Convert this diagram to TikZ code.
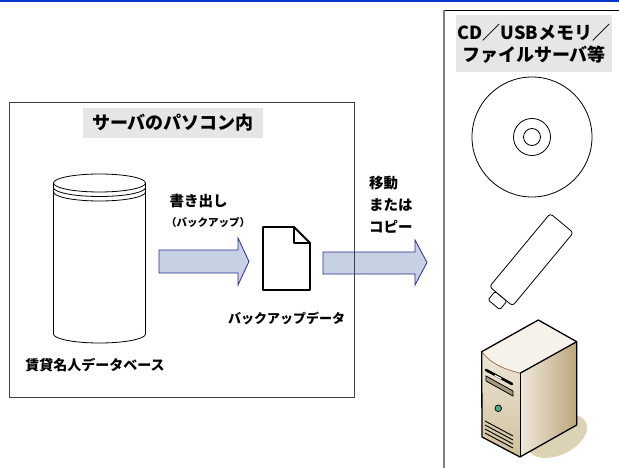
\documentclass[tikz,border=0pt]{standalone}
\usepackage{fontspec}
\setmainfont{Noto Sans CJK JP}
\usetikzlibrary{positioning, calc}

\definecolor{barblue}{RGB}{0,51,204}
\definecolor{tagbg}{HTML}{E6E6E6}
\definecolor{flowfill}{HTML}{C6D1E4}
\definecolor{flowline}{HTML}{2A2A8E}
\definecolor{casetop}{HTML}{F6F2E9}
\definecolor{casefrontA}{HTML}{EEE7D8}
\definecolor{casefrontB}{HTML}{CFBF9C}
\definecolor{casesideA}{HTML}{EFE8DA}
\definecolor{casesideB}{HTML}{BCA77E}
\definecolor{caseshadow}{HTML}{DCD2B5}
\definecolor{ledgreen}{HTML}{4AA88C}

\begin{document}
\begin{tikzpicture}[x=1pt, y=-1pt,
    tag/.style={fill=tagbg, inner sep=0pt, font=\bfseries\fontsize{18}{22}\selectfont},
    lbl/.style={inner sep=0pt, font=\bfseries\fontsize{14}{22}\selectfont},
    flow/.style={fill=flowfill, draw=flowline, line width=0.8pt, line join=miter}]
  \useasboundingbox (0,0) rectangle (619,468);
  \fill[barblue] (0,0) rectangle (619,2.5);

  % block arrows (drawn first, the frames run over them)
  \draw[flow] (159,250) -- (238,250) -- (238,238) -- (249,261.5) -- (238,285) -- (238,273) -- (159,273) -- cycle;
  \draw[flow] (323,252) -- (415,252) -- (415,240) -- (427,262.5) -- (415,285) -- (415,274) -- (323,274) -- cycle;

  % server PC frame
  \draw[black!75, line width=0.9pt] (9,102) rectangle (354,397);
  \node[tag, minimum width=180pt, minimum height=30pt] (srvtitle) at (173,123) {サーバのパソコン内};

  % database cylinder with lid rings
  \draw[line width=0.8pt, fill=white] (53.5,183) -- (53.5,334) arc[start angle=180, end angle=0, x radius=46, y radius=9] -- (145.5,183);
  \draw[line width=0.8pt] (99.5,183) ellipse[x radius=46, y radius=9];
  \draw[line width=0.8pt] (53.5,187.5) arc[start angle=180, end angle=0, x radius=46, y radius=9];
  \draw[line width=0.8pt] (53.5,192) arc[start angle=180, end angle=0, x radius=46, y radius=9];
  \node[lbl] (dbname) at (95,365) {賃貸名人データベース};

  \node[lbl, font=\bfseries\fontsize{14.5}{18}\selectfont] (exportlbl) at (198.5,201) {書き出し};
  \node[lbl, font=\bfseries\fontsize{10.5}{14}\selectfont] (exportsub) at (208,222) {（バックアップ）};

  % backup file
  \draw[line width=1.8pt, line join=round, fill=white] (263,227) -- (294,227) -- (310,243) -- (310,290) -- (263,290) -- cycle;
  \draw[line width=1.8pt, line join=round] (294,227) -- (294,243) -- (310,243);
  \node[lbl, font=\bfseries\fontsize{13}{16}\selectfont] (bkname) at (286.5,318) {バックアップデータ};

  \node[lbl, font=\bfseries\fontsize{14.5}{22}\selectfont, align=left, anchor=west] (movelbl) at (369,205) {移動\\または\\コピー};

  % media frame
  \draw[black, line width=0.8pt] (619,10) -- (444,10);
  \draw[gray, line width=1.6pt] (444,10) -- (444,468);
  \node[tag, minimum width=156pt, minimum height=57pt, align=center] (medtitle) at (534,43.5) {CD／USBメモリ／\\ファイルサーバ等};

  % CD
  \draw[line width=0.8pt] (532,137) circle[radius=60];
  \draw[line width=0.8pt] (532,137) circle[radius=18.5];
  \draw[line width=0.8pt] (532,137) circle[radius=8.5];

  % USB stick
  \draw[line width=0.8pt, rounded corners=1.5pt, fill=white] (488.1,299.9) -- (495.1,291.4) -- (506.9,301.2) -- (499.9,309.7) -- cycle;
  \draw[line width=0.8pt, rounded corners=3pt, fill=white] (550.2,213.5) -- (573.3,232.7) -- (512.6,305.9) -- (489.5,286.7) -- cycle;

  % file server tower
  \coordinate (caseA) at (481.7,351.7);
  \coordinate (caseB) at (538.3,320);
  \coordinate (caseC) at (576.7,341.7);
  \coordinate (caseD) at (520,373.3);
  \coordinate (caseE) at (482,437);
  \coordinate (caseF) at (520,457);
  \coordinate (caseG) at (576.7,425);
  \fill[caseshadow, rotate around={25:(557,436)}] (557,436) ellipse[x radius=32, y radius=19];
  \fill[casetop] (caseA) -- (caseB) -- (caseC) -- (caseD) .. controls (505,369) and (492,365) .. (caseA);
  \shade[left color=casesideA, right color=casesideB] (caseD) -- (caseC) -- (caseG) -- (caseF) -- cycle;
  \shade[top color=casefrontA, bottom color=casefrontB] (caseA) .. controls (492,365) and (505,369) .. (caseD) -- (caseF) -- (caseE) -- cycle;
  \draw[brown!70!black, line width=0.6pt] (caseA) .. controls (492,365) and (505,369) .. (caseD);
  \draw[line width=1.3pt, line join=round] (caseA) -- (caseB) -- (caseC) -- (caseG) -- (caseF) -- (caseE) -- cycle;
  \draw[line width=1.3pt] (caseD) -- (caseC);
  \draw[line width=1.0pt] (caseD) -- (caseF);
  % drive bay, tray, led and vents
  \draw[line width=2.6pt, line cap=round] (486,370) -- (512,384);
  \draw[white, line width=1.2pt, line cap=round] (495,375.5) -- (501,378.5);
  \draw[line width=0.8pt, fill=casefrontB!80!black] (486,376) -- (513,391) -- (513,396) -- (486,381) -- cycle;
  \draw[line width=0.7pt, fill=ledgreen] (498.3,408.3) circle[radius=3.3];
  \foreach \v in {421,425,429,433}
    \draw[line width=0.9pt] (485,\v) -- (513,\v+15);
\end{tikzpicture}
\end{document}
